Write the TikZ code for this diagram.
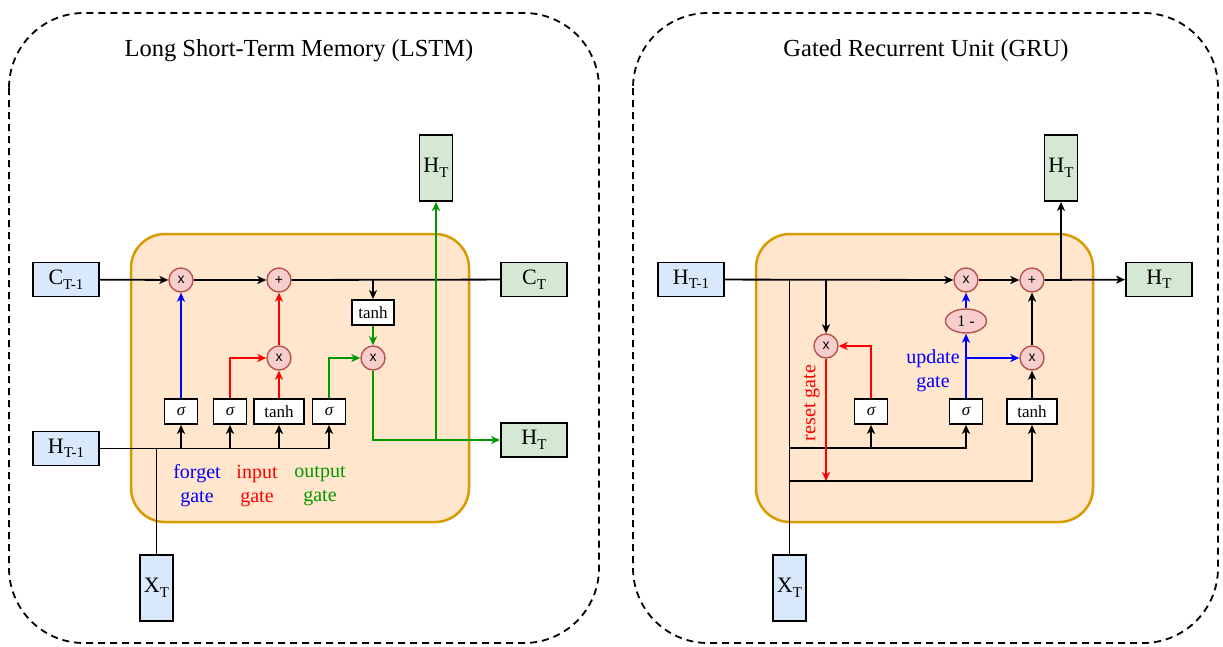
\documentclass[tikz,border=0pt]{standalone}
\usepackage{fontspec}
\setmainfont{Liberation Serif}
\newfontfamily\opfont{Liberation Sans}
\usetikzlibrary{arrows.meta, shapes.geometric}

\definecolor{inblue}{HTML}{DAE8FC}
\definecolor{outgreen}{HTML}{D5E8D4}
\definecolor{opfill}{HTML}{F8CECC}
\definecolor{opline}{HTML}{B85450}
\definecolor{cellfill}{HTML}{FFE6CC}
\definecolor{cellline}{HTML}{D79B00}
\definecolor{gatered}{RGB}{255,0,0}
\definecolor{gateblue}{RGB}{0,0,255}
\definecolor{gategreen}{RGB}{0,153,0}

\newcommand{\lowsub}[1]{\raisebox{-4.5pt}{\fontsize{15}{15}\selectfont #1}}

\tikzset{
  frame/.style={draw, dashed, dash pattern=on 7pt off 5pt, line width=1.8pt, rounded corners=75pt},
  cell/.style={draw=cellline, fill=cellfill, line width=2.5pt, rounded corners=34pt},
  inbox/.style={draw, fill=inblue, line width=1.8pt, minimum width=66pt, minimum height=34pt, inner sep=1pt, font=\fontsize{22}{24}\selectfont},
  outbox/.style={inbox, fill=outgreen},
  tallbox/.style={minimum width=33pt, minimum height=66pt},
  op/.style={circle, draw=opline, fill=opfill, line width=1.4pt, minimum size=24pt, inner sep=0pt, font=\opfont\fontsize{14}{14}\selectfont},
  fn/.style={draw, fill=white, line width=1.8pt, minimum width=33pt, minimum height=25pt, inner sep=1pt, font=\fontsize{17}{17}\selectfont},
  wire/.style={line width=1.8pt},
  conn/.style={wire, -{Stealth[length=9pt, width=8pt, inset=2.5pt]}},
  gatelbl/.style={align=center, font=\fontsize{20}{24}\selectfont},
  title/.style={font=\fontsize{24.5}{28}\selectfont}
}

\begin{document}
\begin{tikzpicture}[x=1pt, y=-1pt]
\useasboundingbox (0,0) rectangle (1223,646);

% frames and titles
\draw[frame] (9,13) rectangle (599,643);
\draw[frame] (633,13) rectangle (1218,643);
\node[title] (lstmtitle) at (299,51) {Long Short-Term Memory (LSTM)};
\node[title] (grutitle) at (926,51) {Gated Recurrent Unit (GRU)};

%% LSTM
\draw[cell] (131,234) rectangle (469,522);
\node[inbox] (cprev) at (66,279.5) {C\lowsub{T-1}};
\node[inbox] (hprev) at (66,448.5) {H\lowsub{T-1}};
\node[inbox, tallbox] (xt) at (156.5,588) {X\lowsub{T}};
\node[outbox] (ct) at (534,279.5) {C\lowsub{T}};
\node[outbox] (ht) at (534,440) {H\lowsub{T}};
\node[outbox, tallbox] (htup) at (436,168) {H\lowsub{T}};

\node[op] (fx) at (181,280) {x};
\node[op] (add) at (279,280) {+};
\node[op] (ix) at (279,358) {x};
\node[op] (ox) at (373,358) {x};
\node[fn, minimum width=42pt] (tanhc) at (373,312.5) {tanh};
\node[fn] (sf) at (181,411.5) {\itshape σ};
\node[fn] (si) at (230,411.5) {\itshape σ};
\node[fn, minimum width=50pt] (ti) at (279,411.5) {tanh};
\node[fn] (so) at (329,411.5) {\itshape σ};
\coordinate (hbus) at (329,448.5);

\draw[conn] (cprev) -- (fx);
\draw[conn] (fx) -- (add);
\draw[wire] (add) -- (ct);
\draw[conn] (tanhc |- add) -- (tanhc);
\draw[wire] (hprev) -- (hbus);
\draw[wire] (xt) -- (xt |- hprev);
\foreach \g in {sf, si, ti, so}
  \draw[conn] (\g |- hprev) -- (\g);
\draw[conn, gateblue] (sf) -- (fx);
\draw[conn, gatered] (si) |- (ix);
\draw[conn, gatered] (ti) -- (ix);
\draw[conn, gatered] (ix) -- (add);
\draw[conn, gategreen] (so) |- (ox);
\draw[conn, gategreen] (tanhc) -- (ox);
\draw[conn, gategreen] (ox) |- (ht);
\draw[conn, gategreen] (htup |- ht) -- (htup);

\node[gatelbl, gateblue] (forgetlbl) at (197,486) {forget\\gate};
\node[gatelbl, gatered] (inputlbl) at (257,486) {input\\gate};
\node[gatelbl, gategreen] (outputlbl) at (320,486) {output\\gate};

%% GRU
\draw[cell] (756,234) rectangle (1093,522);
\node[inbox] (ghprev) at (691,279.5) {H\lowsub{T-1}};
\node[inbox, tallbox] (gxt) at (789.5,588) {X\lowsub{T}};
\node[outbox] (ght) at (1159,279.5) {H\lowsub{T}};
\node[outbox, tallbox] (ghtup) at (1061,168) {H\lowsub{T}};

\node[op] (rx) at (826,346) {x};
\node[op] (zx) at (966,280) {x};
\node[op] (gadd) at (1032,280) {+};
\node[op] (hx) at (1032,358) {x};
\node[op, ellipse, minimum width=41pt, minimum height=24pt, font=\fontsize{16}{16}\selectfont] (inv) at (966,321) {1 -};
\node[fn] (sr) at (871,411.5) {\itshape σ};
\node[fn] (sz) at (966,411.5) {\itshape σ};
\node[fn, minimum width=50pt] (gtanh) at (1032,411.5) {tanh};
\coordinate (gbus1) at (789.5,448);
\coordinate (gbus2) at (789.5,481);

\draw[conn] (ghprev) -- (zx);
\draw[conn] (zx) -- (gadd);
\draw[conn] (gadd) -- (ght);
\draw[conn] (ghtup |- gadd) -- (ghtup);
\draw[conn] (rx |- ghprev) -- (rx);
\draw[wire] (gxt) -- (gxt |- ghprev);
\draw[conn] (gbus1) -| (sz);
\draw[conn] (sr |- gbus1) -- (sr);
\draw[conn] (gbus2) -| (gtanh);
\draw[conn, gatered] (rx) -- (rx |- gbus2);
\draw[conn, gatered] (sr) |- (rx);
\draw[conn, gateblue] (sz) -- (inv);
\draw[conn, gateblue] (inv) -- (zx);
\draw[conn, gateblue] (sz |- hx) -- (hx);
\draw[conn] (gtanh) -- (hx);
\draw[conn] (hx) -- (gadd);

\node[gatelbl, gateblue] (updatelbl) at (933,371) {update\\gate};
\node[gatelbl, gatered, rotate=90] (resetlbl) at (812,403) {reset gate};
\end{tikzpicture}
\end{document}
